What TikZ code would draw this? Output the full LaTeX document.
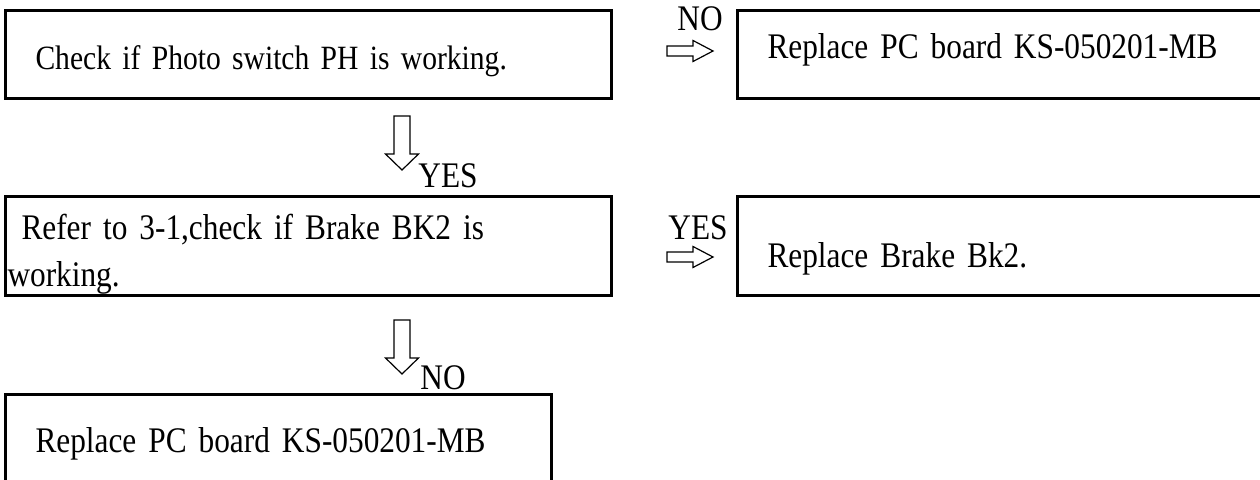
\documentclass[tikz,border=0pt]{standalone}
\usepackage{fontspec}
\setmainfont[FakeStretch=0.87]{Liberation Serif}
\usetikzlibrary{positioning}
\tikzset{
  box/.style={draw,line width=1.5pt,anchor=north west,align=left,
    inner xsep=15pt,inner ysep=0pt,font=\fontsize{18}{23.5}\selectfont},
  tag/.style={anchor=base west,inner sep=0pt,font=\fontsize{18}{20}\selectfont},
  % hollow block arrows
  pics/rightarrow/.style={code={
    \draw[line width=0.6pt] (0,-5) -- (26,-5) -- (26,-10.5) -- (46,0) -- (26,10.5) -- (26,5) -- (0,5) -- cycle;
  }},
  pics/downarrow/.style={code={
    \draw[line width=0.6pt] (-8,0) -- (8,0) -- (8,38) -- (16.5,38) -- (0,54) -- (-16.5,38) -- (-8,38) -- cycle;
  }},
}
\begin{document}
\begin{tikzpicture}[x=0.5pt,y=-0.5pt]
  \useasboundingbox (0,0) rectangle (1260,480);
  \clip (0,0) rectangle (1260,480);
  \node[box,text width=273pt,minimum height=44pt,text height=15pt,text depth=0pt,
    font=\fontsize{17}{23.5}\selectfont] (check) at (4,9)
    {Check if Photo switch PH is working.};
  \node[box,text width=300pt,minimum height=44pt,text height=4pt,text depth=0pt] (pcbtop) at (736,9)
    {Replace PC board KS-050201-MB};
  \node[box,inner xsep=1pt,text width=301pt,minimum height=49.5pt] (brake) at (4,195)
    {\rule{0pt}{21pt}\hspace*{7pt}Refer to 3-1,check if Brake BK2 is\\working.};
  \node[box,text width=300pt,minimum height=49.5pt,text height=22pt,text depth=0pt] (bkrep) at (736,195)
    {Replace Brake Bk2.};
  \node[box,text width=243pt,minimum height=47pt,text height=11pt,text depth=0pt] (pcbbot) at (4,393)
    {Replace PC board KS-050201-MB};
  % arrows and their labels
  \pic (arrno) at (667,51) {rightarrow};
  \node[tag] (labno) at (677,31) {NO};
  \pic (arryes) at (667,257) {rightarrow};
  \node[tag] (labyes) at (668,240) {YES};
  \pic (downyes) at (402,116) {downarrow};
  \node[tag] (labdyes) at (418,188) {YES};
  \pic (downno) at (402,320) {downarrow};
  \node[tag] (labdno) at (420,390) {NO};
\end{tikzpicture}
\end{document}
